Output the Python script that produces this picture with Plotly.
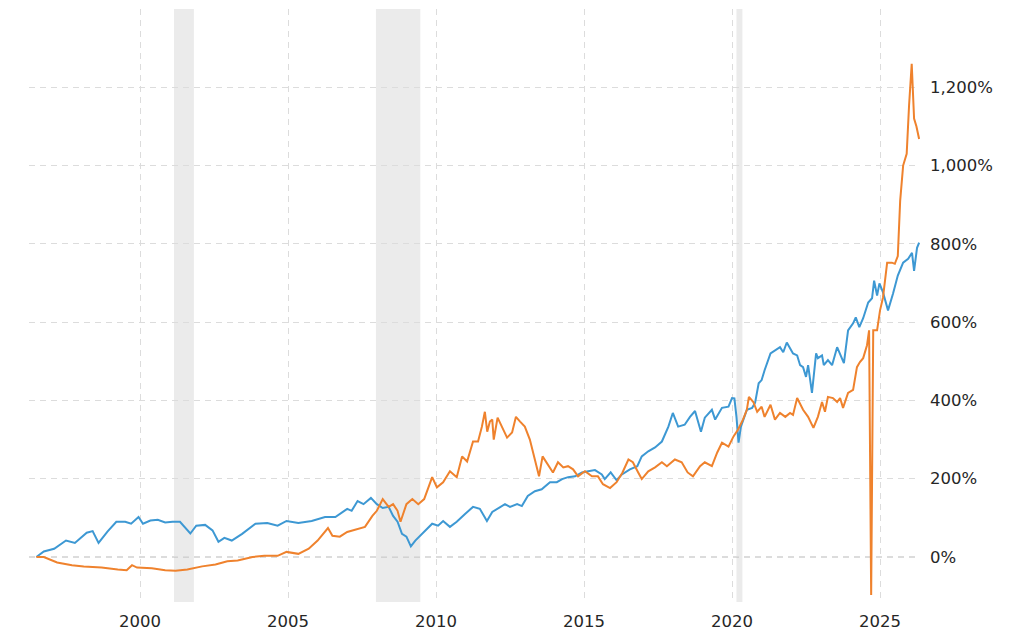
import plotly.graph_objects as go

# ---- data (decimal years, % change) ----
blue_x = [1996.5, 1996.75, 1997.1, 1997.5, 1997.8, 1998.2, 1998.4, 1998.6, 1998.9, 1999.2, 1999.5, 1999.7,
          1999.95, 2000.1, 2000.35, 2000.6, 2000.85, 2001.1, 2001.35, 2001.7, 2001.9, 2002.2, 2002.45, 2002.65,
          2002.85, 2003.1, 2003.45, 2003.9, 2004.3, 2004.65, 2004.95, 2005.35, 2005.8, 2006.25, 2006.6, 2007.0,
          2007.15, 2007.35, 2007.55, 2007.8, 2008.0, 2008.2, 2008.4, 2008.55, 2008.7, 2008.85, 2009.0, 2009.15,
          2009.3, 2009.6, 2009.87, 2010.07, 2010.24, 2010.47, 2010.7, 2010.98, 2011.25, 2011.48, 2011.72, 2011.9,
          2012.17, 2012.33, 2012.5, 2012.74, 2012.9, 2013.1, 2013.34, 2013.57, 2013.85, 2014.08, 2014.26, 2014.46,
          2014.7, 2014.93, 2015.14, 2015.37, 2015.6, 2015.7, 2015.9, 2016.1, 2016.28, 2016.55, 2016.8, 2016.95,
          2017.17, 2017.4, 2017.63, 2017.85, 2018.0, 2018.18, 2018.4, 2018.58, 2018.75, 2018.95, 2019.08, 2019.32,
          2019.43, 2019.66, 2019.88, 2020.0, 2020.08, 2020.15, 2020.22, 2020.3, 2020.5, 2020.68, 2020.78, 2020.9,
          2021.0, 2021.1, 2021.3, 2021.45, 2021.62, 2021.73, 2021.85, 2021.96, 2022.06, 2022.2, 2022.3, 2022.4,
          2022.5, 2022.57, 2022.7, 2022.84, 2022.9, 2023.04, 2023.1, 2023.24, 2023.38, 2023.55, 2023.68, 2023.78,
          2023.92, 2024.09, 2024.18, 2024.3, 2024.43, 2024.6, 2024.73, 2024.8, 2024.9, 2024.98, 2025.1, 2025.27,
          2025.44, 2025.6, 2025.78, 2025.95, 2026.08, 2026.15, 2026.25, 2026.32]
blue_y = [0, 14, 21, 42, 36, 62, 66, 36, 65, 90, 90, 85,
          102, 85, 93, 95, 88, 90, 90, 60, 80, 82, 68, 39,
          49, 42, 59, 85, 87, 80, 92, 87, 92, 102, 102, 123,
          118, 143, 135, 151, 135, 125, 128, 105, 90, 59, 52, 27,
          42, 65, 85, 80, 92, 77, 90, 110, 128, 123, 92, 115,
          128, 135, 128, 135, 130, 156, 168, 173, 191, 191, 199, 204,
          206, 216, 219, 222, 211, 199, 216, 196, 211, 224, 232, 257,
          270, 280, 295, 333, 368, 333, 338, 358, 373, 320, 356, 376,
          351, 381, 384, 406, 405, 358, 292, 333, 376, 381, 394, 444,
          452, 477, 520, 528, 536, 523, 548, 533, 520, 515, 490, 485,
          460, 490, 419, 520, 508, 515, 490, 503, 490, 536, 510, 495,
          579, 597, 612, 587, 610, 650, 661, 706, 668, 699, 676, 630,
          673, 719, 752, 762, 777, 731, 790, 803]

orange_x = [1996.5, 1996.75, 1997.2, 1997.7, 1998.1, 1998.7, 1999.25, 1999.55, 1999.73, 1999.9, 2000.4, 2000.85,
            2001.2, 2001.6, 2002.1, 2002.55, 2002.95, 2003.3, 2003.8, 2004.2, 2004.65, 2004.95, 2005.35, 2005.7,
            2006.0, 2006.35, 2006.5, 2006.75, 2007.0, 2007.35, 2007.6, 2007.85, 2008.0, 2008.2, 2008.4, 2008.55,
            2008.7, 2008.8, 2009.0, 2009.2, 2009.4, 2009.6, 2009.87, 2010.03, 2010.24, 2010.47, 2010.7, 2010.88,
            2011.05, 2011.25, 2011.42, 2011.55, 2011.65, 2011.73, 2011.82, 2011.9, 2011.95, 2012.08, 2012.23, 2012.4,
            2012.57, 2012.7, 2012.84, 2013.0, 2013.17, 2013.3, 2013.48, 2013.6, 2013.78, 2013.95, 2014.12, 2014.3,
            2014.46, 2014.63, 2014.8, 2015.03, 2015.27, 2015.47, 2015.64, 2015.88, 2016.1, 2016.3, 2016.5, 2016.65,
            2016.83, 2016.95, 2017.17, 2017.4, 2017.63, 2017.8, 2018.07, 2018.3, 2018.5, 2018.68, 2018.92, 2019.08,
            2019.32, 2019.5, 2019.66, 2019.88, 2020.05, 2020.2, 2020.37, 2020.5, 2020.57, 2020.72, 2020.85, 2021.0,
            2021.1, 2021.3, 2021.45, 2021.62, 2021.8, 2021.96, 2022.06, 2022.2, 2022.4, 2022.57, 2022.75, 2022.9,
            2023.04, 2023.14, 2023.24, 2023.41, 2023.55, 2023.65, 2023.75, 2023.92, 2024.09, 2024.22, 2024.32, 2024.43,
            2024.56, 2024.63, 2024.7, 2024.77, 2024.9, 2025.0, 2025.1, 2025.24, 2025.4, 2025.5, 2025.6, 2025.68,
            2025.78, 2025.9, 2025.98, 2026.07, 2026.15, 2026.23, 2026.32]
orange_y = [0, 0, -14, -21, -24, -27, -32, -34, -21, -27, -29, -34,
            -35, -32, -24, -19, -11, -9, 0, 3, 3, 13, 8, 21,
            42, 74, 54, 52, 64, 72, 77, 105, 118, 148, 128, 135,
            118, 90, 135, 148, 135, 148, 204, 178, 191, 219, 204, 257,
            244, 295, 295, 333, 371, 320, 346, 351, 300, 356, 333, 305,
            318, 358, 346, 333, 300, 257, 206, 257, 237, 216, 242, 229,
            232, 224, 206, 219, 206, 206, 186, 176, 191, 216, 249, 242,
            216, 199, 219, 229, 242, 232, 249, 242, 216, 206, 232, 242,
            232, 267, 292, 282, 308, 325, 351, 376, 409, 396, 371, 384,
            358, 389, 351, 368, 358, 368, 363, 406, 376, 358, 330, 358,
            396, 371, 409, 406, 396, 406, 381, 419, 427, 485, 498, 508,
            541, 579, -97, 579, 579, 630, 663, 752, 752, 749, 769, 910,
            1000, 1030, 1153, 1260, 1120, 1100, 1068]

recession_start = [2001.15, 2007.97, 2020.15]
recession_end = [2001.82, 2009.47, 2020.35]

x_tick_vals = [2000, 2005, 2010, 2015, 2020, 2025]
x_tick_labels = ["2000", "2005", "2010", "2015", "2020", "2025"]
y_tick_vals = [0, 200, 400, 600, 800, 1000, 1200, 1400]
y_tick_labels = ["0%", "200%", "400%", "600%", "800%", "1,000%", "1,200%", ""]

BLUE = "#3d98d3"
ORANGE = "#ef822d"
FONT = "DejaVu Sans"

fig = go.Figure()
fig.add_trace(go.Scatter(x=blue_x, y=blue_y, mode="lines",
                         line=dict(color=BLUE, width=2), showlegend=False))
fig.add_trace(go.Scatter(x=orange_x, y=orange_y, mode="lines",
                         line=dict(color=ORANGE, width=2), showlegend=False))

for s, e in zip(recession_start, recession_end):
    fig.add_vrect(x0=s, x1=e, fillcolor="#ebebeb", line_width=0, layer="below", opacity=1)

fig.add_shape(type="line", xref="paper", x0=0, x1=1, yref="y", y0=0, y1=0,
              line=dict(color="#b8b8b8", width=1, dash="6px,5px"), layer="below")

fig.update_layout(
    width=1024, height=640,
    margin=dict(l=29, r=104, t=9, b=36),
    paper_bgcolor="white", plot_bgcolor="white",
    font=dict(family=FONT, size=16.5, color="#262626"),
    xaxis=dict(range=[1996.25, 2026.35], tickvals=x_tick_vals, ticktext=x_tick_labels,
               showgrid=True, gridcolor="#dcdcdc", griddash="6px,5px", gridwidth=1,
               zeroline=False, showline=False, ticks="", ticklabelstandoff=7),
    yaxis=dict(range=[-115, 1400], side="right", tickvals=y_tick_vals, ticktext=y_tick_labels,
               showgrid=True, gridcolor="#dcdcdc", griddash="6px,5px", gridwidth=1,
               zeroline=False, showline=False, ticks="", ticklabelstandoff=9),
)

fig.write_html("out.html")
